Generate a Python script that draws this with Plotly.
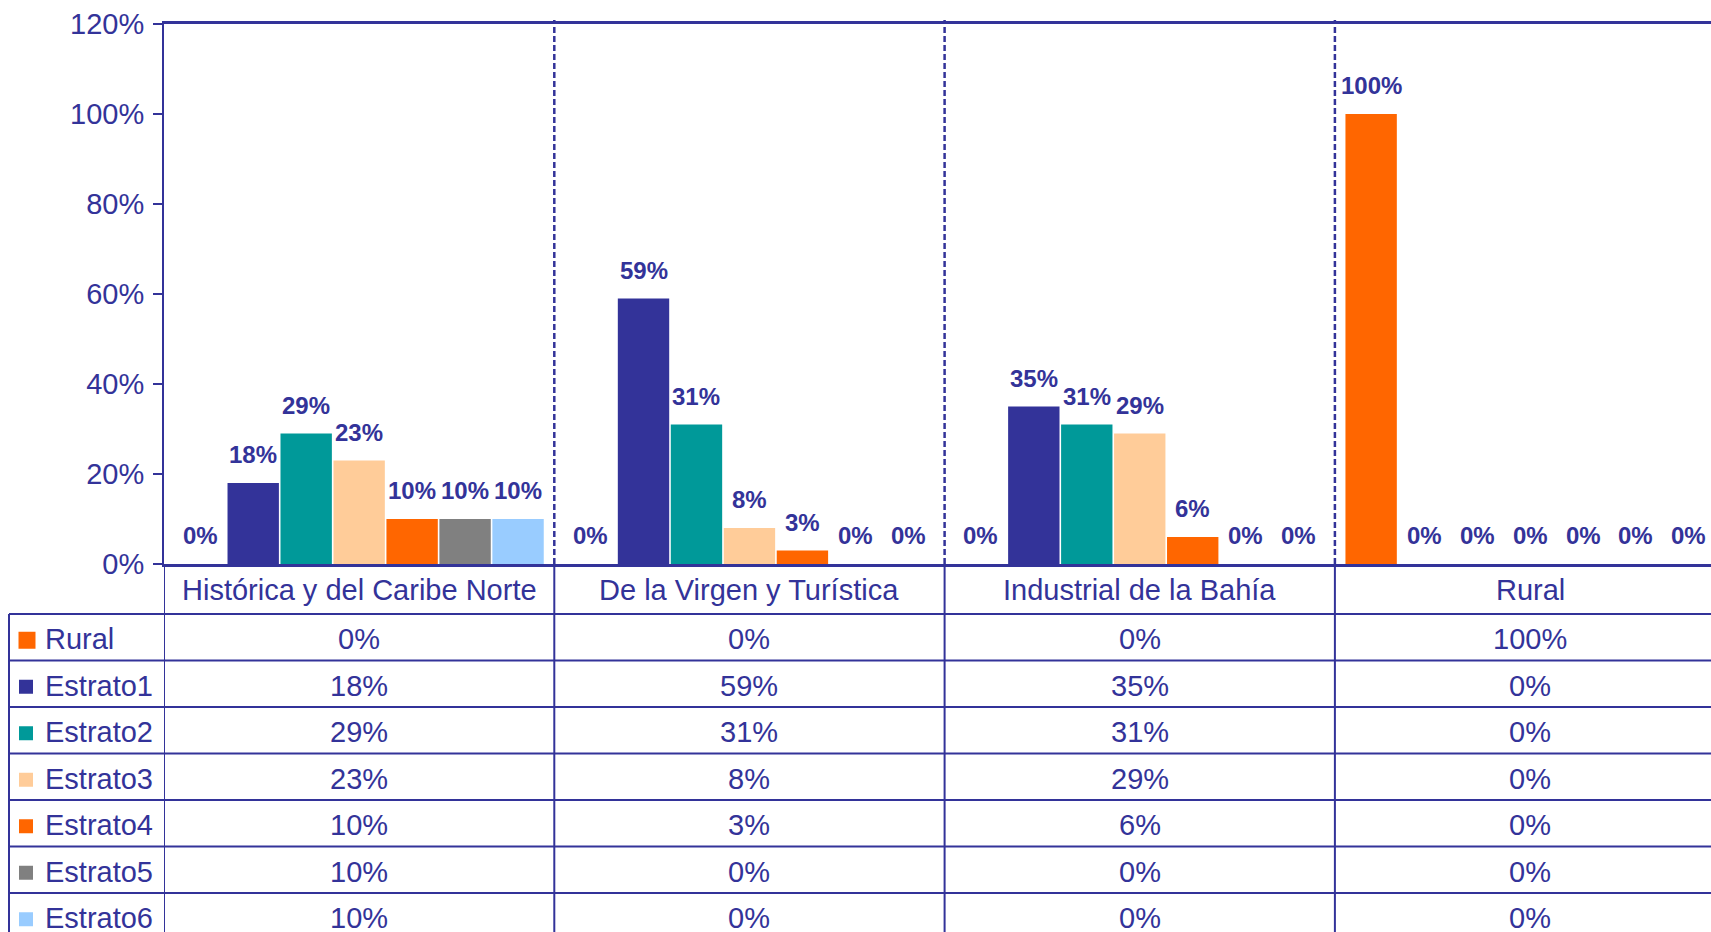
import plotly.graph_objects as go

# ---- data -------------------------------------------------------------
categories = ["Histórica y del Caribe Norte", "De la Virgen y Turística",
              "Industrial de la Bahía", "Rural"]
series_names = ["Rural", "Estrato1", "Estrato2", "Estrato3",
                "Estrato4", "Estrato5", "Estrato6"]
rural = [0, 0, 0, 100]
estrato1 = [18, 59, 35, 0]
estrato2 = [29, 31, 31, 0]
estrato3 = [23, 8, 29, 0]
estrato4 = [10, 3, 6, 0]
estrato5 = [10, 0, 0, 0]
estrato6 = [10, 0, 0, 0]
y_ticks = [0, 20, 40, 60, 80, 100, 120]

series_values = [rural, estrato1, estrato2, estrato3, estrato4, estrato5, estrato6]
series_colors = ["#FF6600", "#333399", "#009999", "#FFCC99",
                 "#FF6600", "#808080", "#99CCFF"]

# ---- layout constants (pixels) -----------------------------------------
W, H = 1711, 932
PLOT_L, PLOT_T, PLOT_B = 164, 24, 564
CAT_W = 390.3
BARGAP, GROUPGAP = 0.05, 0.03
INK = "#333399"
FONT = "Liberation Sans, Arial, Helvetica, sans-serif"
TXT = 29
HEADER_BOTTOM = 614
ROW_H = 46.5
TABLE_LEFT = 9

x_end = -0.5 + (W - PLOT_L) / CAT_W


def py(p):
    """pixel row -> paper y"""
    return (PLOT_B - p) / (PLOT_B - PLOT_T)


def px(p):
    """pixel column -> paper x"""
    return (p - PLOT_L) / (W - PLOT_L)


fig = go.Figure()
for name, vals, col in zip(series_names, series_values, series_colors):
    fig.add_trace(go.Bar(name=name, x=categories, y=vals,
                         marker=dict(color=col, line=dict(width=0)),
                         showlegend=False))

annotations = []
shapes = []

# value labels above the bars, placed at each bar's group slot
n = len(series_names)
slot = (1 - BARGAP) / n
for i, (name, vals) in enumerate(zip(series_names, series_values)):
    off = -(1 - BARGAP) / 2 + slot * (i + 0.5)
    for j, v in enumerate(vals):
        annotations.append(dict(
            x=j + off, y=v, xref="x", yref="y", text=f"{v}%",
            showarrow=False, yanchor="bottom", yshift=13,
            font=dict(family=FONT, size=24, color=INK, weight="bold")))

# category separators: dashed in the plot, solid through the table
for j in range(len(categories)):
    xb = j + 0.5
    shapes.append(dict(type="line", xref="x", yref="paper", x0=xb, x1=xb,
                       y0=0, y1=py(20), line=dict(color=INK, width=2.5, dash="6px,3px")))
    shapes.append(dict(type="line", xref="x", yref="paper", x0=xb, x1=xb,
                       y0=0, y1=py(H + 5), line=dict(color=INK, width=2)))

# value axis continues down as the table's label column border
shapes.append(dict(type="line", xref="x", yref="paper", x0=-0.5, x1=-0.5,
                   y0=0, y1=py(H + 5), line=dict(color=INK, width=2)))
shapes.append(dict(type="line", xref="paper", yref="paper",
                   x0=px(TABLE_LEFT), x1=px(TABLE_LEFT),
                   y0=py(HEADER_BOTTOM), y1=py(H + 5), line=dict(color=INK, width=2)))

# table horizontal rules
for k in range(len(series_names) + 1):
    yy = HEADER_BOTTOM + k * ROW_H
    shapes.append(dict(type="line", xref="paper", yref="paper",
                       x0=px(TABLE_LEFT), x1=1.02, y0=py(yy), y1=py(yy),
                       line=dict(color=INK, width=2)))

# header row with category names
for j, cat in enumerate(categories):
    annotations.append(dict(
        x=j, y=py((PLOT_B + HEADER_BOTTOM) / 2 + 1), xref="x", yref="paper",
        text=cat, showarrow=False, yanchor="middle",
        font=dict(family=FONT, size=TXT, color=INK)))

# table body: legend key, series name and values
for r, (name, vals, col) in enumerate(zip(series_names, series_values, series_colors)):
    yc = HEADER_BOTTOM + (r + 0.5) * ROW_H + 2
    half = 8.5 if r == 0 else 7
    kx = 27 if r == 0 else 26
    shapes.append(dict(type="rect", xref="paper", yref="paper",
                       x0=px(kx - half), x1=px(kx + half),
                       y0=py(yc + 1 + half), y1=py(yc + 1 - half),
                       fillcolor=col, line=dict(width=0)))
    annotations.append(dict(
        x=px(43), y=py(yc), xref="paper", yref="paper", text=name,
        showarrow=False, xanchor="left", yanchor="middle",
        font=dict(family=FONT, size=TXT, color=INK)))
    for j, v in enumerate(vals):
        annotations.append(dict(
            x=j, y=py(yc), xref="x", yref="paper", text=f"{v}%",
            showarrow=False, yanchor="middle",
            font=dict(family=FONT, size=TXT, color=INK)))

fig.update_layout(
    width=W, height=H,
    margin=dict(l=PLOT_L, r=0, t=PLOT_T, b=H - PLOT_B, pad=0),
    paper_bgcolor="white", plot_bgcolor="white",
    barmode="group", bargap=BARGAP, bargroupgap=GROUPGAP,
    font=dict(family=FONT, color=INK),
    xaxis=dict(range=[-0.5, x_end], showticklabels=False, ticks="",
               showgrid=False, zeroline=False, showline=True, mirror=True,
               linecolor=INK, linewidth=2.5, fixedrange=True),
    yaxis=dict(range=[0, 120], tickvals=y_ticks, ticktext=[f"{t}%" for t in y_ticks],
               ticks="outside", ticklen=9, tickwidth=2, tickcolor=INK,
               showline=True, linecolor=INK, linewidth=2, showgrid=False,
               zeroline=False, tickfont=dict(family=FONT, size=TXT, color=INK),
               ticklabelstandoff=3, fixedrange=True),
    annotations=annotations,
    shapes=shapes,
)

fig.write_html("out.html")
